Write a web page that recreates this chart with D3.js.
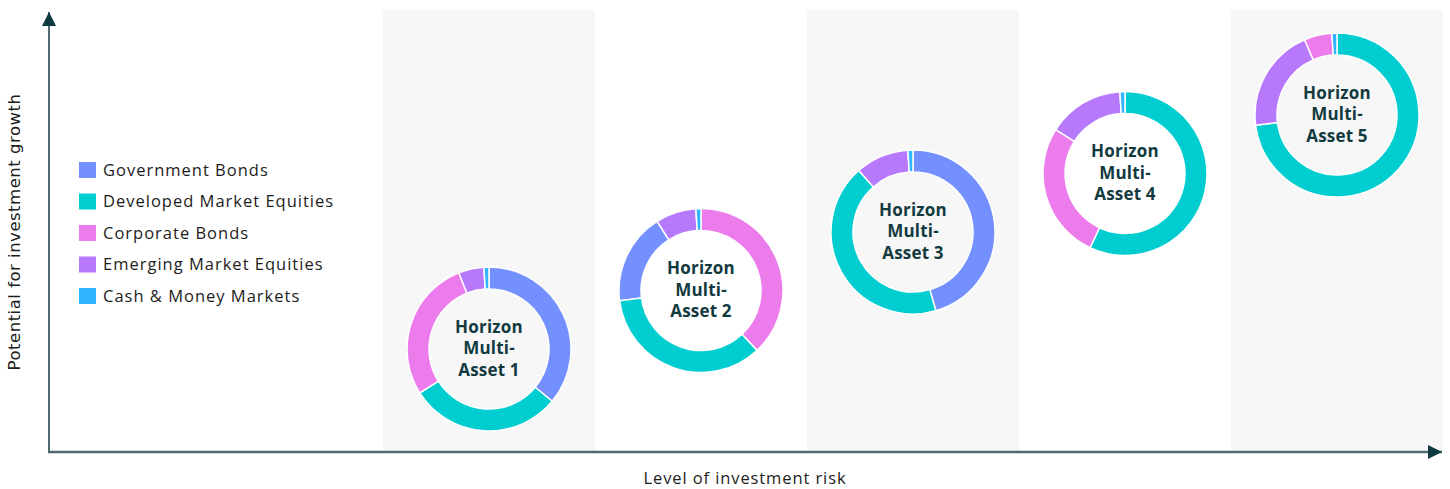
<!DOCTYPE html>
<html>
<head>
<meta charset="utf-8">
<script src="https://cdn.jsdelivr.net/npm/d3@7"></script>
<style>
  html, body { margin: 0; padding: 0; background: #ffffff; }
  svg { display: block; }
</style>
</head>
<body>
<div id="chart"></div>
<script>
// asset classes, in legend order
const assetClasses = ["Government Bonds", "Developed Market Equities", "Corporate Bonds", "Emerging Market Equities", "Cash & Money Markets"]
const assetColors = ["#7390fe", "#00cdd0", "#ec7bec", "#b779fc", "#30b5ff"]

// portfolios, left (lowest risk) to right
const portfolios = ["Horizon Multi-Asset 1", "Horizon Multi-Asset 2", "Horizon Multi-Asset 3", "Horizon Multi-Asset 4", "Horizon Multi-Asset 5"]
const riskLevels = [1, 2, 3, 4, 5]

// allocation % per portfolio, columns follow assetClasses
const govBonds      = [36,   18,   45.5, 0,  0]
const devEquities   = [30,   35,   43,   57, 73]
const corpBonds     = [28,   38,   0,    27, 5.5]
const emEquities    = [5,    8,    10.5, 15, 20.5]
const cashMoney     = [1,    1,    1,    1,  1]

const xLabel = "Level of investment risk"
const yLabel = "Potential for investment growth"

const width = 1450
const height = 489
const axisX = 49            // y-axis position
const axisY = 452           // x-axis position
const plotTop = 10
const outerR = 82
const innerR = 60
const textFont = "'Open Sans', sans-serif"

const series = [govBonds, devEquities, corpBonds, emEquities, cashMoney]

const svg = d3.select("#chart")
    .append("svg")
    .attr("width", width)
    .attr("height", height)
    .attr("viewBox", [0, 0, width, height])

const xScale = d3.scaleBand(portfolios, [383, 1443]).padding(0)
const yScale = d3.scaleLinear([1, 5], [349, 115])
const color = d3.scaleOrdinal(assetClasses, assetColors)

// alternating shaded columns
svg.append("g")
    .selectAll("rect")
    .data(portfolios.filter((p, i) => i % 2 === 0))
    .join("rect")
    .attr("x", d => xScale(d))
    .attr("y", plotTop)
    .attr("width", xScale.bandwidth())
    .attr("height", axisY - plotTop)
    .attr("fill", "#f7f7f7")

// axes with arrows
const defs = svg.append("defs")
defs.append("marker")
    .attr("id", "arrow")
    .attr("viewBox", "0 0 10 10")
    .attr("refX", 10)
    .attr("refY", 5)
    .attr("markerUnits", "userSpaceOnUse")
    .attr("markerWidth", 16)
    .attr("markerHeight", 14)
    .attr("orient", "auto")
    .append("path")
    .attr("d", "M0,0 L10,5 L0,10 Z")
    .attr("fill", "#0d3b40")

svg.append("line")
    .attr("x1", axisX).attr("y1", axisY)
    .attr("x2", axisX).attr("y2", 12)
    .attr("stroke", "#4f6a70")
    .attr("stroke-width", 2)
    .attr("marker-end", "url(#arrow)")

svg.append("line")
    .attr("x1", axisX - 1).attr("y1", axisY)
    .attr("x2", 1442).attr("y2", axisY)
    .attr("stroke", "#4f6a70")
    .attr("stroke-width", 2.5)
    .attr("marker-end", "url(#arrow)")

svg.append("text")
    .attr("x", 745)
    .attr("y", 484)
    .attr("text-anchor", "middle")
    .attr("font-family", textFont)
    .attr("font-size", 16.5)
    .attr("letter-spacing", 0.9)
    .attr("fill", "#1d1d1b")
    .text(xLabel)

svg.append("text")
    .attr("transform", "translate(20,232) rotate(-90)")
    .attr("text-anchor", "middle")
    .attr("font-family", "'DejaVu Sans', sans-serif")
    .attr("font-size", 16.5)
    .attr("letter-spacing", 0.5)
    .attr("fill", "#1d1d1b")
    .text(yLabel)

// donuts
const pie = d3.pie().sortValues((a, b) => b - a).value(d => d.value)
const arc = d3.arc().innerRadius(innerR).outerRadius(outerR)

const donut = svg.append("g")
    .selectAll("g")
    .data(portfolios)
    .join("g")
    .attr("transform", (d, i) => `translate(${xScale(d) + xScale.bandwidth() / 2},${yScale(riskLevels[i])})`)

donut.selectAll("path")
    .data((d, i) => pie(assetClasses.map((a, j) => ({key: a, value: series[j][i]})).filter(s => s.value > 0)))
    .join("path")
    .attr("d", arc)
    .attr("fill", d => color(d.data.key))
    .attr("stroke", "#ffffff")
    .attr("stroke-width", 1.5)

donut.append("text")
    .attr("text-anchor", "middle")
    .attr("font-family", textFont)
    .attr("font-weight", 700)
    .attr("font-size", 17)
    .attr("letter-spacing", 0.2)
    .attr("fill", "#123a3f")
    .selectAll("tspan")
    .data(d => {
        const n = d.split(" ")
        return [n[0], n[1].replace("Asset", "").trim(), "Asset " + n[2]]
    })
    .join("tspan")
    .attr("x", 0)
    .attr("y", (d, i) => (i - 1) * 21.5 + 5)
    .text(d => d)

// legend
const legend = svg.append("g")
    .selectAll("g")
    .data(assetClasses)
    .join("g")
    .attr("transform", (d, i) => `translate(79,${162 + i * 31.5})`)

legend.append("rect")
    .attr("width", 17)
    .attr("height", 16)
    .attr("fill", d => color(d))

legend.append("text")
    .attr("x", 24)
    .attr("y", 8)
    .attr("dy", "0.35em")
    .attr("font-family", textFont)
    .attr("font-size", 16.5)
    .attr("letter-spacing", 1)
    .attr("fill", "#1d1d1b")
    .text(d => d)
</script>
</body>
</html>
